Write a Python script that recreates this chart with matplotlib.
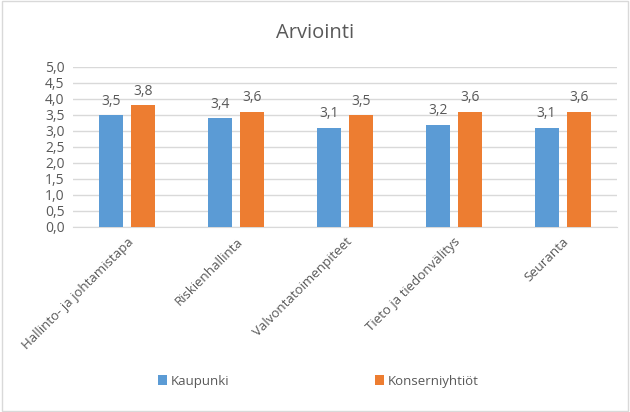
import matplotlib.pyplot as plt
import numpy as np

plt.rcParams['font.family'] = ['Open Sans', 'DejaVu Sans']

categories = ["Hallinto- ja johtamistapa", "Riskienhallinta", "Valvontatoimenpiteet",
              "Tieto ja tiedonvälitys", "Seuranta"]
kaupunki = [3.5, 3.4, 3.1, 3.2, 3.1]
konserni = [3.8, 3.6, 3.5, 3.6, 3.6]
yticks = [0, 0.5, 1.0, 1.5, 2.0, 2.5, 3.0, 3.5, 4.0, 4.5, 5.0]

blue = '#5B9BD5'
orange = '#ED7D31'
txt = '#595959'

fig = plt.figure(figsize=(6.3, 4.12), dpi=100)
# light frame round the whole chart
fig.patches.append(plt.Rectangle((0.003, 0.003), 0.994, 0.994, transform=fig.transFigure,
                                 fill=False, edgecolor='#D9D9D9', linewidth=1))

ax = fig.add_axes([73/630, 1 - 227/412, 544/630, 160/412])
x = np.arange(len(categories))
w = 0.22
off = 0.147
b1 = ax.bar(x - off, kaupunki, w, color=blue, label='Kaupunki', zorder=3)
b2 = ax.bar(x + off, konserni, w, color=orange, label='Konserniyhtiöt', zorder=3)

for bars, vals in ((b1, kaupunki), (b2, konserni)):
    for r, v in zip(bars, vals):
        ax.text(r.get_x() + r.get_width()/2, v + 0.2, f"{v:.1f}".replace('.', ','),
                ha='center', va='bottom', fontsize=10, color=txt)

ax.set_xlim(-0.5, len(categories) - 0.5)
ax.set_ylim(0, 5)
ax.set_yticks(yticks)
ax.set_yticklabels([f"{t:.1f}".replace('.', ',') for t in yticks], fontsize=10, color=txt)
ax.set_xticks(x)
ax.set_xticklabels(categories, rotation=45, ha='right', rotation_mode='anchor',
                   fontsize=9.5, color=txt)
ax.tick_params(length=0, pad=6)
ax.grid(axis='y', color='#D9D9D9', linewidth=1, zorder=0)
for s in ['top', 'right', 'left']:
    ax.spines[s].set_visible(False)
ax.spines['bottom'].set_color('#D9D9D9')

fig.text(0.5, 1 - 33/412, "Arviointi", ha='center', va='center', fontsize=14.5, color=txt)

fig.legend(handles=[b1, b2], loc='center', bbox_to_anchor=(0.505, 1 - 381/412), ncol=2,
           frameon=False, fontsize=9.5, handlelength=0.7, handleheight=0.7,
           handletextpad=0.3, columnspacing=11, labelcolor=txt)

fig.savefig('out.png', dpi=100)
